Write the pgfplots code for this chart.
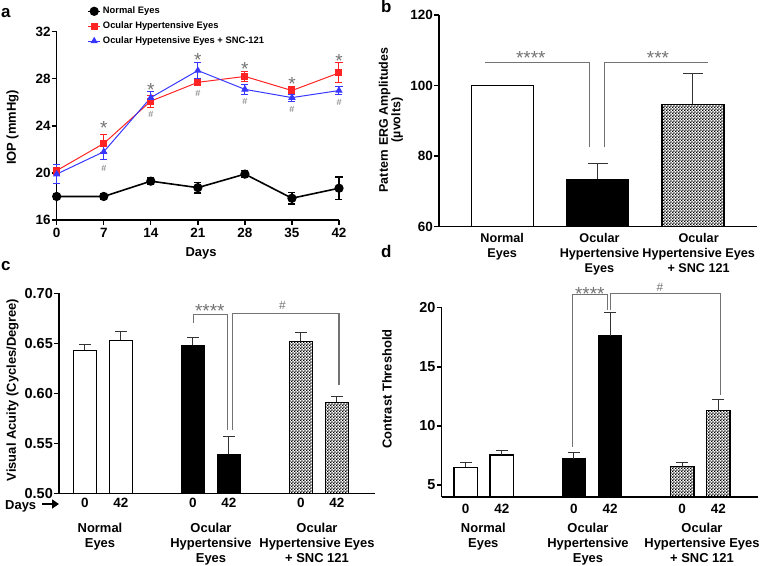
\documentclass[border=0pt]{standalone}
\usepackage{fontspec}
\setmainfont{Liberation Sans}
\usepackage{pgfplots}
\pgfplotsset{compat=1.18}
\usetikzlibrary{patterns,arrows.meta}
\pgfdeclarepatternformonly{finecheck}{\pgfpointorigin}{\pgfqpoint{2.8bp}{2.8bp}}{\pgfqpoint{2.8bp}{2.8bp}}{%
  \pgfpathrectangle{\pgfpointorigin}{\pgfqpoint{1.4bp}{1.4bp}}%
  \pgfpathrectangle{\pgfqpoint{1.4bp}{1.4bp}}{\pgfqpoint{1.4bp}{1.4bp}}%
  \pgfusepath{fill}}
\definecolor{sig}{RGB}{115,115,115}
\definecolor{ohtred}{RGB}{255,35,35}
\definecolor{sncblue}{RGB}{55,55,255}
\newcommand{\fs}[1]{\fontsize{#1}{#1}\selectfont}
\tikzset{
  star/.style={font=\fs{19}, text=sig, inner sep=0pt, anchor=base, yshift=-10.9bp},
  hash/.style={font=\fs{12}, text=sig, inner sep=0pt},
  hashs/.style={font=\fs{9}, text=sig, inner sep=0pt},
  brk/.style={draw=sig, line width=1.1bp},
  lab/.style={font=\bfseries\fs{13}, inner sep=0pt},
  grp/.style={font=\bfseries\fontsize{13}{15}\selectfont, inner sep=0pt, align=center, anchor=north},
}
\pgfplotsset{
  gp/.style={
    scale only axis,
    axis x line*=bottom, axis y line*=left,
    axis line style={-, line width=1.4bp},
    tick style={line width=1.4bp, black},
    tick align=outside, major tick length=5bp,
    /pgf/number format/assume math mode=true,
    tick label style={font=\bfseries\fs{14}},
    yticklabel style={inner sep=1bp},
    xticklabel style={inner sep=0pt},
  },
  barax/.style={gp, clip=true, clip mode=individual, major x tick style={draw=none}},
  barbase/.style={ybar, bar width=0.65, bar shift=0pt, line width=1.3bp, draw=black},
  barplot/.style={barbase,
    error bars/y dir=plus, error bars/y explicit,
    error bars/error bar style={line width=1bp, black!80},
    error bars/error mark options={rotate=90, mark size=#1, line width=1bp, black!80}},
  barplot/.default=6bp,
}
\begin{document}
\begin{tikzpicture}
\path[use as bounding box] (0,0) rectangle (760bp,-566bp);

% ---------------- panel a ----------------
\begin{axis}[gp, clip=false, at={(56.7bp,-220bp)}, anchor=south west,
  width=282.3bp, height=188.3bp,
  xmin=0, xmax=42, ymin=16, ymax=32,
  xtick={0,7,14,21,28,35,42}, xticklabels={0,7,14,21,28,35,42},
  ytick={16,20,24,28,32}, yticklabels={16,20,24,28,32},
  tick label style={font=\bfseries\fs{13.5}},
  xticklabel shift=2.7bp,
  legend style={at={(0.108,1.142)}, anchor=north west, draw=none, fill=none,
    font=\bfseries\fs{9.4}, inner sep=0pt, row sep=2.6bp, nodes={inner sep=2bp}},
  legend cell align=left,
  legend image code/.code={\draw[mark repeat=2,mark phase=2,#1] plot coordinates {(0bp,0bp) (6bp,0bp) (12bp,0bp)};},
]
\addplot[black, line width=1.6bp, mark=*, mark size=3.8bp,
  error bars/y dir=both, error bars/y explicit,
  error bars/error bar style={line width=1.4bp, black},
  error bars/error mark options={rotate=90, mark size=3.5bp, line width=1.4bp, black}]
  coordinates {(0,18) +- (0,0.2) (7,18) +- (0,0.2) (14,19.3) +- (0,0.3) (21,18.75) +- (0,0.45)
               (28,19.9) +- (0,0.3) (35,17.85) +- (0,0.5) (42,18.7) +- (0,0.95)};
\addlegendentry{Normal Eyes}
\addplot[ohtred, line width=1bp, mark=square*, mark size=3bp,
  error bars/y dir=both, error bars/y explicit,
  error bars/error bar style={line width=1bp, ohtred},
  error bars/error mark options={rotate=90, mark size=3.5bp, line width=1bp, ohtred}]
  coordinates {(0,20.2) +- (0,0.3) (7,22.5) +- (0,0.8) (14,26.1) +- (0,0.5) (21,27.7) +- (0,0.3)
               (28,28.2) +- (0,0.45) (35,27.0) +- (0,0.35) (42,28.5) +- (0,0.85)};
\addlegendentry{Ocular Hypertensive Eyes}
\addplot[sncblue, line width=1bp, mark=triangle*, mark size=3.3bp,
  error bars/y dir=both, error bars/y explicit,
  error bars/error bar style={line width=1bp, sncblue},
  error bars/error mark options={rotate=90, mark size=3.5bp, line width=1bp, sncblue}]
  coordinates {(0,19.9) +- (0,0.8) (7,21.8) +- (0,0.7) (14,26.4) +- (0,0.5) (21,28.7) +- (0,0.7)
               (28,27.1) +- (0,0.4) (35,26.4) +- (0,0.3) (42,27.0) +- (0,0.35)};
\addlegendentry{Ocular Hypetensive Eyes + SNC-121}
\node[star] at (7,24.15) {*};
\node[star] at (14,27.4) {*};
\node[star] at (21,29.95) {*};
\node[star] at (28,29.2) {*};
\node[star] at (35,27.9) {*};
\node[star] at (42,29.9) {*};
\node[hashs] at (7,20.4) {\#};
\node[hashs] at (14,25.0) {\#};
\node[hashs] at (21,26.75) {\#};
\node[hashs] at (28,26.1) {\#};
\node[hashs] at (35,25.4) {\#};
\node[hashs] at (42,26.0) {\#};
\end{axis}

% ---------------- panel b ----------------
\begin{axis}[barax, at={(439bp,-226.7bp)}, anchor=south west, width=318bp, height=211.7bp,
  xmin=0.337, xmax=3.672, ymin=60, ymax=120,
  ytick={60,80,100,120}, yticklabels={60,80,100,120},
  xtick={1,2.02,3.06}, xticklabels={{Normal\\Eyes},{Ocular\\Hypertensive\\Eyes},{Ocular\\Hypertensive Eyes\\+ SNC 121}},
  yticklabel style={font=\bfseries\fs{13.5}},
  xticklabel style={align=center, font=\bfseries\fontsize{12.7}{15}\selectfont},
  xticklabel shift=1.6bp,
]
\addplot[barbase, fill=white] coordinates {(1,100)};
\addplot[barplot=10bp, fill=black] coordinates {(2,73.4) +- (0,4.4)};
\addplot[barplot=10bp, pattern=finecheck, pattern color=black] coordinates {(3,94.7) +- (0,8.6)};
\draw[brk] (0.82,106.6) -- (1.914,106.6) -- (1.914,82.5);
\draw[brk] (2.07,82.5) -- (2.07,106.6) -- (3.16,106.6);
\node[star] at (1.30,109.2) {****};
\node[star] at (2.634,109.2) {***};
\end{axis}

% ---------------- panel c ----------------
\begin{axis}[barax, at={(59bp,-493.3bp)}, anchor=south west, width=316bp, height=200bp,
  xmin=-0.722, xmax=8.06, ymin=0.5, ymax=0.7,
  ytick={0.5,0.55,0.6,0.65,0.7}, yticklabels={0.50,0.55,0.60,0.65,0.70},
  xtick={0,1,3,4,6,7}, xticklabels={0,42,0,42,0,42},
  yticklabel style={font=\bfseries\fs{14.5}},
  xticklabel style={font=\bfseries\fs{13.5}},
]
\addplot[barplot, fill=white] coordinates {(0,0.643) +- (0,0.006) (1,0.653) +- (0,0.0087)};
\addplot[barplot, fill=black] coordinates {(3,0.648) +- (0,0.008) (4,0.539) +- (0,0.018)};
\addplot[barplot, pattern=finecheck, pattern color=black] coordinates {(6,0.652) +- (0,0.009) (7,0.591) +- (0,0.006)};
\draw[brk] (3.01,0.670) -- (3.01,0.679) -- (3.97,0.679) -- (3.97,0.563);
\draw[brk] (4.10,0.563) -- (4.10,0.680) -- (7.06,0.680) -- (7.06,0.608);
\node[star] at (3.47,0.687) {****};
\node[hash] at (5.49,0.688) {\#};
\end{axis}

% ---------------- panel d ----------------
\begin{axis}[barax, at={(441.7bp,-496.8bp)}, anchor=south west, width=316.3bp, height=189.1bp,
  xmin=-0.665, xmax=8.1, ymin=4, ymax=20,
  ytick={5,10,15,20}, yticklabels={5,10,15,20},
  xtick={0,1,3,4,6,7}, xticklabels={0,42,0,42,0,42},
  yticklabel style={font=\bfseries\fs{14.5}},
  xticklabel style={font=\bfseries\fs{13.5}},
  xticklabel shift=2.4bp,
]
\addplot[barplot, fill=white] coordinates {(0,6.5) +- (0,0.42) (1,7.54) +- (0,0.34)};
\addplot[barplot, fill=black] coordinates {(3,7.2) +- (0,0.57) (4,17.6) +- (0,2.0)};
\addplot[barplot, pattern=finecheck, pattern color=black] coordinates {(6,6.55) +- (0,0.35) (7,11.3) +- (0,0.96)};
\draw[brk] (2.965,8.25) -- (2.965,21.1) -- (3.93,21.1) -- (3.93,19.8);
\draw[brk] (4.0,19.8) -- (4.0,21.2) -- (7.05,21.2) -- (7.05,12.6);
\node[star] at (3.44,21.5) {****};
\node[hash] at (5.38,21.7) {\#};
\end{axis}

% ---------------- free text ----------------
\node[font=\bfseries\fs{17}, anchor=base west, inner sep=0pt] at (1bp,-17bp) {a};
\node[font=\bfseries\fs{17}, anchor=base west, inner sep=0pt] at (381bp,-12bp) {b};
\node[font=\bfseries\fs{17}, anchor=base west, inner sep=0pt] at (1bp,-270bp) {c};
\node[font=\bfseries\fs{17}, anchor=base west, inner sep=0pt] at (381bp,-257bp) {d};
\node[lab, rotate=90] at (12.5bp,-127.5bp) {IOP (mmHg)};
\node[lab] at (201bp,-253bp) {Days};
\node[lab, rotate=90, align=center, font=\bfseries\fontsize{12.5}{12.5}\selectfont] at (391bp,-120bp) {Pattern ERG Amplitudes\\(µvolts)};
\node[lab, rotate=90] at (12.5bp,-390bp) {Visual Acuity (Cycles/Degree)};
\node[lab, rotate=90] at (387bp,-389bp) {Contrast Threshold};
\node[lab, anchor=base west] at (5bp,-509bp) {Days};
\draw[-{Triangle[length=7bp,width=9bp]}, line width=2.6bp] (42bp,-504bp) -- (59bp,-504bp);
\node[grp] at (100bp,-523.3bp) {Normal\\Eyes};
\node[grp] at (211bp,-523.3bp) {Ocular\\Hypertensive\\Eyes};
\node[grp] at (317bp,-523.3bp) {Ocular\\Hypertensive Eyes\\+ SNC 121};
\node[grp] at (483.3bp,-523.3bp) {Normal\\Eyes};
\node[grp] at (588bp,-523.3bp) {Ocular\\Hypertensive\\Eyes};
\node[grp] at (702bp,-523.3bp) {Ocular\\Hypertensive Eyes\\+ SNC 121};
\end{tikzpicture}
\end{document}
